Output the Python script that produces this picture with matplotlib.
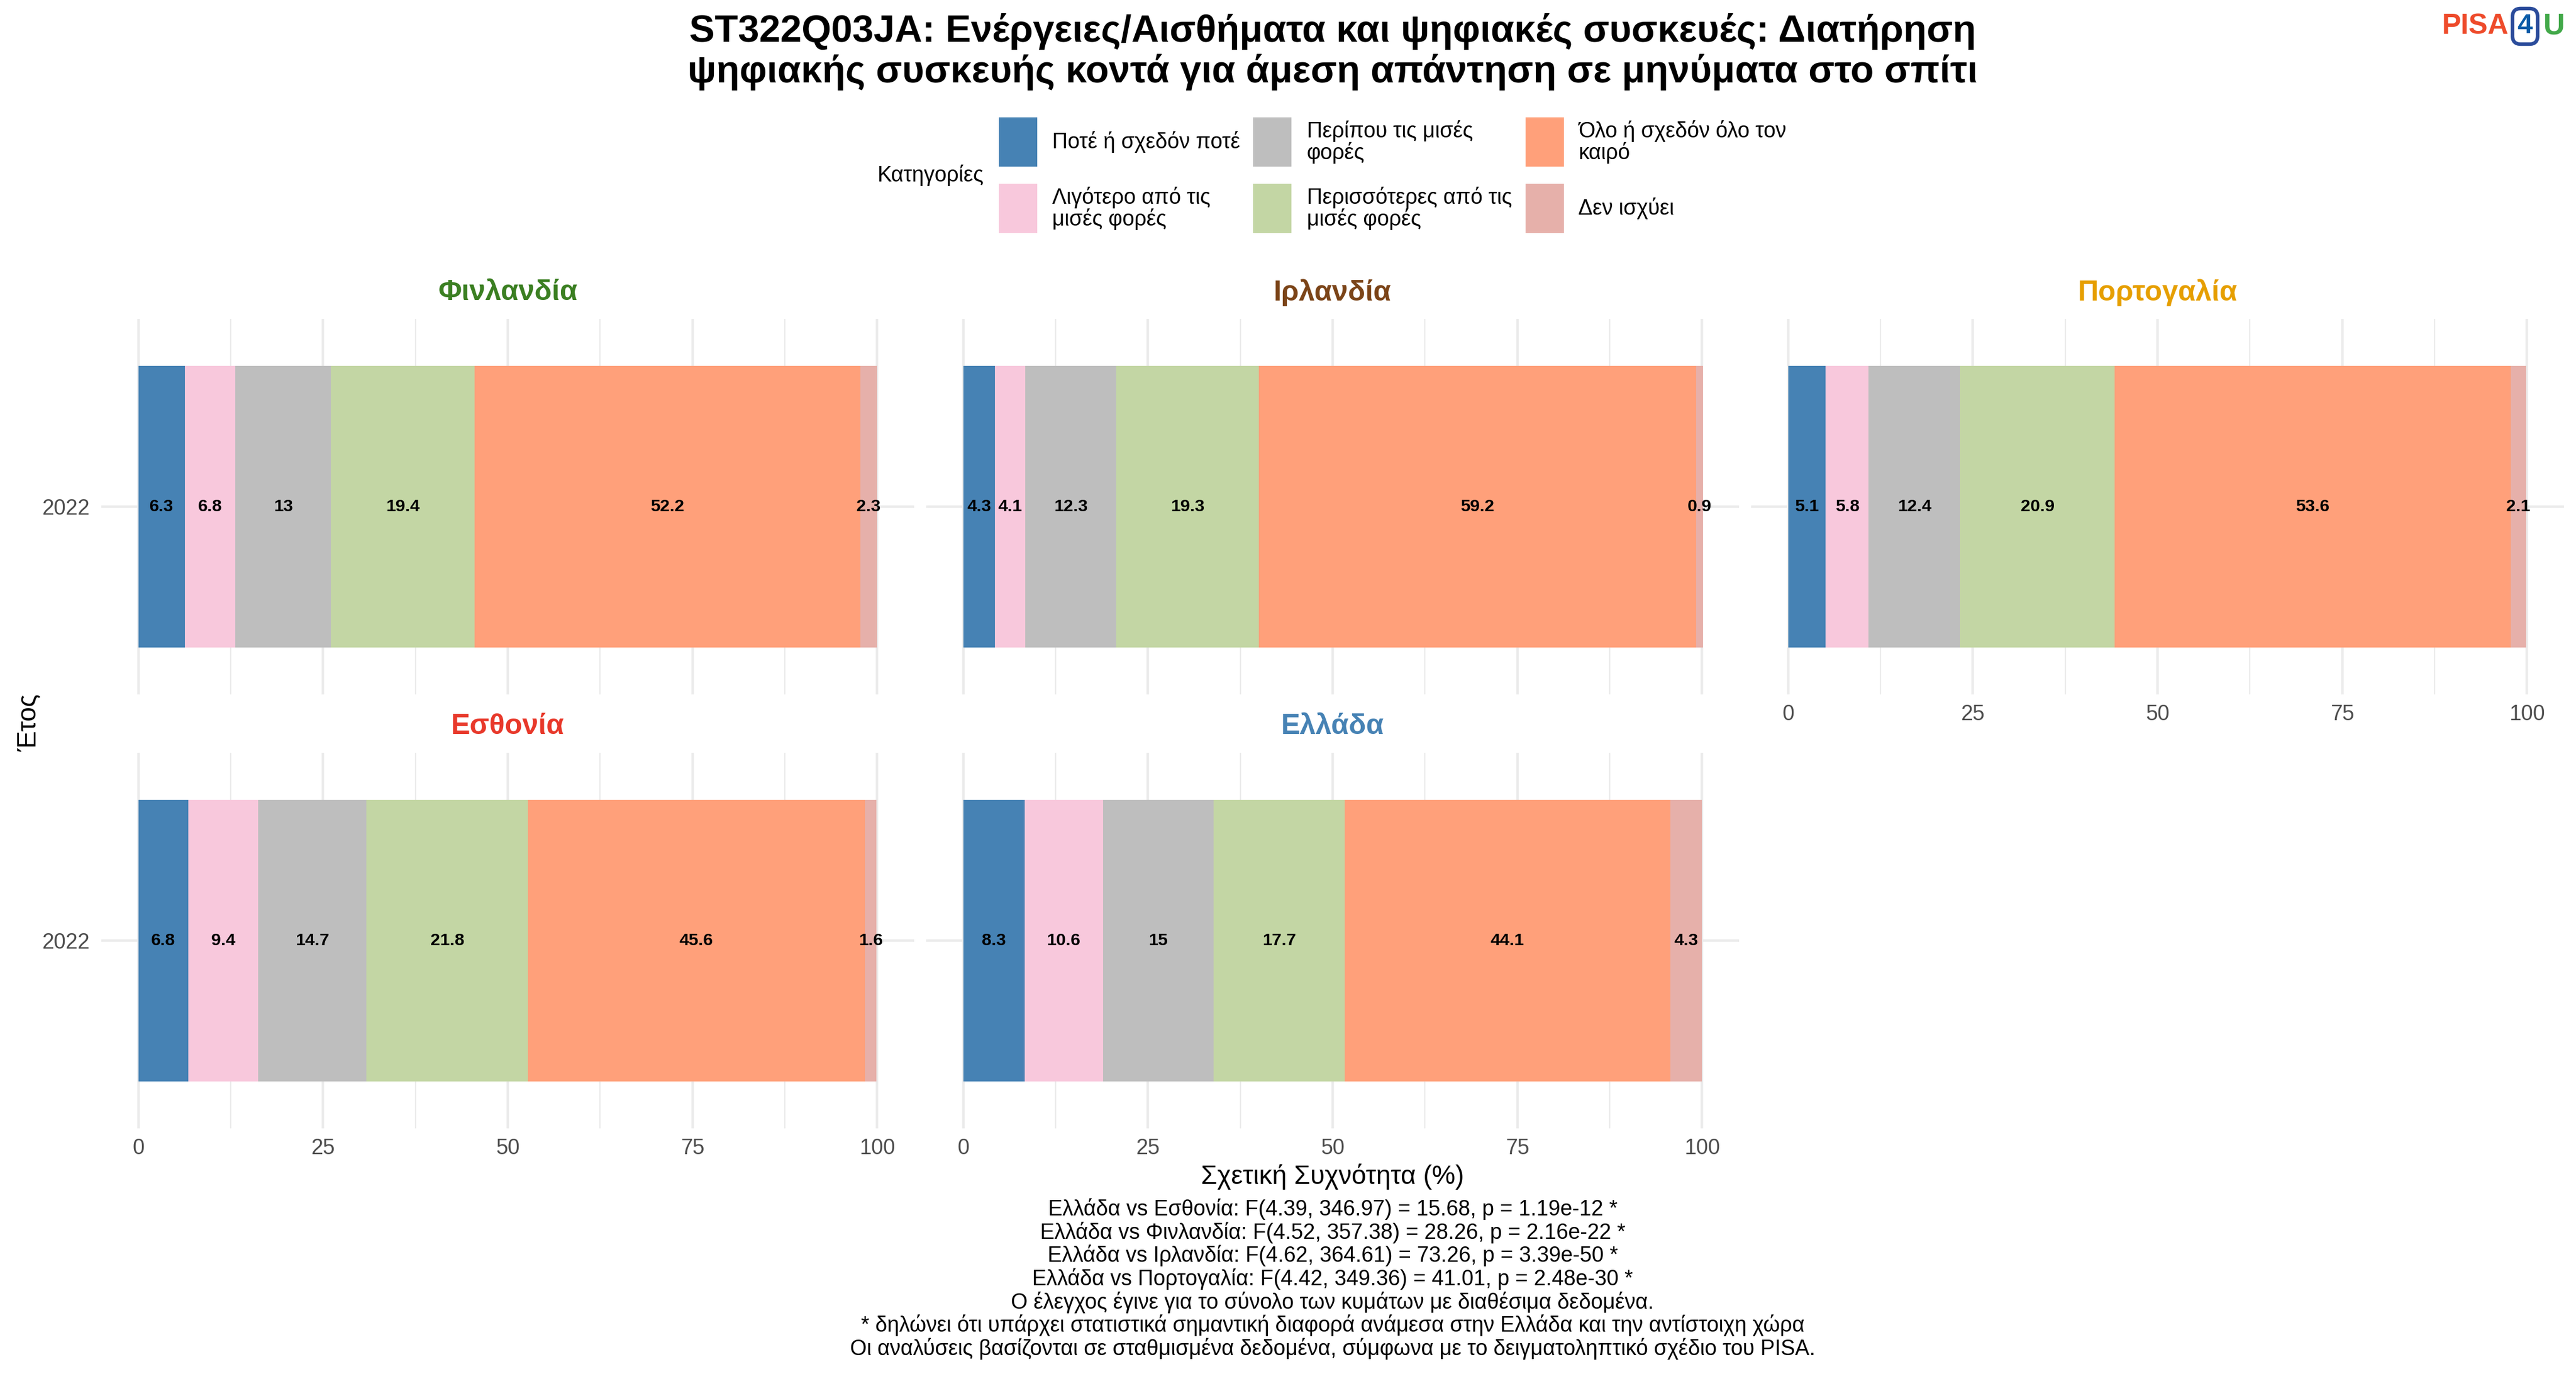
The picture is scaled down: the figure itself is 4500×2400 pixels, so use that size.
import matplotlib
matplotlib.use('Agg')
import matplotlib.pyplot as plt
from matplotlib.patches import Rectangle

plt.rcParams['font.family'] = ['Liberation Sans', 'DejaVu Sans']

W, H = 4500, 2400

# ---------------- data ----------------
categories = ["Ποτέ ή σχεδόν ποτέ", "Λιγότερο από τις μισές φορές",
              "Περίπου τις μισές φορές", "Περισσότερες από τις μισές φορές",
              "Όλο ή σχεδόν όλο τον καιρό", "Δεν ισχύει"]
legend_labels = ["Ποτέ ή σχεδόν ποτέ", "Λιγότερο από τις\nμισές φορές",
                 "Περίπου τις μισές\nφορές", "Περισσότερες από τις\nμισές φορές",
                 "Όλο ή σχεδόν όλο τον\nκαιρό", "Δεν ισχύει"]
cat_colors = ["#4682B4", "#F8C8DC", "#BEBEBE", "#C3D6A4", "#FFA07A", "#E6B0AA"]

countries = ["Φινλανδία", "Ιρλανδία", "Πορτογαλία", "Εσθονία", "Ελλάδα"]
country_colors = ["#3B7F22", "#7B4418", "#E69F00", "#E8382A", "#4682B4"]
years = ["2022"]

finland = [6.3, 6.8, 13, 19.4, 52.2, 2.3]
ireland = [4.3, 4.1, 12.3, 19.3, 59.2, 0.9]
portugal = [5.1, 5.8, 12.4, 20.9, 53.6, 2.1]
estonia = [6.8, 9.4, 14.7, 21.8, 45.6, 1.6]
greece = [8.3, 10.6, 15, 17.7, 44.1, 4.3]
values = [finland, ireland, portugal, estonia, greece]

x_ticks = [0, 25, 50, 75, 100]

title_lines = ["ST322Q03JA: Ενέργειες/Αισθήματα και ψηφιακές συσκευές: Διατήρηση",
               "ψηφιακής συσκευής κοντά για άμεση απάντηση σε μηνύματα στο σπίτι"]
x_label = "Σχετική Συχνότητα (%)"
y_label = "Έτος"
legend_title = "Κατηγορίες"
footnotes = [
    "Ελλάδα vs Εσθονία: F(4.39, 346.97) = 15.68, p = 1.19e-12 *",
    "Ελλάδα vs Φινλανδία: F(4.52, 357.38) = 28.26, p = 2.16e-22 *",
    "Ελλάδα vs Ιρλανδία: F(4.62, 364.61) = 73.26, p = 3.39e-50 *",
    "Ελλάδα vs Πορτογαλία: F(4.42, 349.36) = 41.01, p = 2.48e-30 *",
    "Ο έλεγχος έγινε για το σύνολο των κυμάτων με διαθέσιμα δεδομένα.",
    "* δηλώνει ότι υπάρχει στατιστικά σημαντική διαφορά ανάμεσα στην Ελλάδα και την αντίστοιχη χώρα",
    "Οι αναλύσεις βασίζονται σε σταθμισμένα δεδομένα, σύμφωνα με το δειγματοληπτικό σχέδιο του PISA.",
]

# ---------------- layout ----------------
fig = plt.figure(figsize=(15, 8), dpi=300)

def fx(px):
    return px / W

def fy(py):
    return 1 - py / H

col_left = [177, 1618, 3059]
panel_w = 1420
row_top = [557, 1315]
panel_h = 656
positions = [(0, 0), (0, 1), (0, 2), (1, 0), (1, 1)]
has_xlabels = [False, False, True, True, True]

for i, (country, vals) in enumerate(zip(countries, values)):
    r, c = positions[i]
    l = col_left[c]
    t = row_top[r]
    ax = fig.add_axes([fx(l), fy(t + panel_h), fx(panel_w), panel_h / H])
    left = 0
    for v, col in zip(vals, cat_colors):
        ax.barh(0, v, left=left, height=0.9, color=col, linewidth=0, zorder=2)
        ax.text(left + v / 2, 0, f"{v:g}", ha='center', va='center',
                fontsize=7.3, fontweight='bold', color='black', zorder=3)
        left += v
    ax.set_xlim(-5, 105)
    ax.set_ylim(-0.6, 0.6)
    ax.set_xticks(x_ticks)
    ax.set_xticks([12.5, 37.5, 62.5, 87.5], minor=True)
    ax.set_yticks([0])
    ax.set_yticklabels(years if c == 0 else [""])
    if not has_xlabels[i]:
        ax.set_xticklabels([])
    ax.grid(which='major', axis='both', color='#EBEBEB', linewidth=1.07, zorder=0)
    ax.grid(which='minor', axis='x', color='#EBEBEB', linewidth=0.53, zorder=0)
    ax.set_axisbelow(True)
    for s in ax.spines.values():
        s.set_visible(False)
    ax.tick_params(which='both', length=0, labelsize=9, labelcolor='#4D4D4D')
    ax.tick_params(axis='x', pad=4)
    ax.tick_params(axis='y', pad=5)
    # panel title
    fig.text(fx(l + panel_w / 2), fy(t - 46), country, ha='center', va='center',
             fontsize=12, fontweight='bold', color=country_colors[i])

# title
cx = fx((177 + 3059 + panel_w) / 2)
fig.text(cx, fy(55), title_lines[0], ha='center', va='center', fontsize=16, fontweight='bold')
fig.text(cx, fy(126), title_lines[1], ha='center', va='center', fontsize=16, fontweight='bold')

# axis labels
fig.text(cx, fy(2055), x_label, ha='center', va='center', fontsize=11)
fig.text(fx(50), fy(1263), y_label, ha='center', va='center', fontsize=11, rotation=90)

# footnotes
for k, line in enumerate(footnotes):
    fig.text(cx, fy(2112 + k * 40.7), line, ha='center', va='center', fontsize=9)

# legend
fig.text(fx(1533), fy(306), legend_title, ha='left', va='center', fontsize=9)
key_x = [1745, 2189, 2665]
text_x = [1838, 2283, 2757]
key_y = [205, 321]
for j, (lab, col) in enumerate(zip(legend_labels, cat_colors)):
    cc = j // 2
    rr = j % 2
    fig.patches.append(Rectangle((fx(key_x[cc]), fy(key_y[rr] + 86)), fx(67), 86 / H,
                                 transform=fig.transFigure, facecolor=col, edgecolor='none'))
    fig.text(fx(text_x[cc]), fy(key_y[rr] + 43), lab, ha='left', va='center',
             fontsize=9, linespacing=1.0)

# logo
fig.text(fx(4382), fy(46), "PISA", ha='right', va='center', fontsize=12,
         fontweight='bold', color='#EE4B2B')
fig.text(fx(4411), fy(46), "4", ha='center', va='center', fontsize=11.5,
         fontweight='bold', color='#0A5CA8',
         bbox=dict(boxstyle='round,pad=0.18,rounding_size=0.3', fc='white',
                   ec='#2B4C9B', lw=1.5))
fig.text(fx(4480), fy(46), "U", ha='right', va='center', fontsize=12.5,
         fontweight='bold', color='#43A94A')

fig.savefig('out.png', dpi=300, facecolor='white')
